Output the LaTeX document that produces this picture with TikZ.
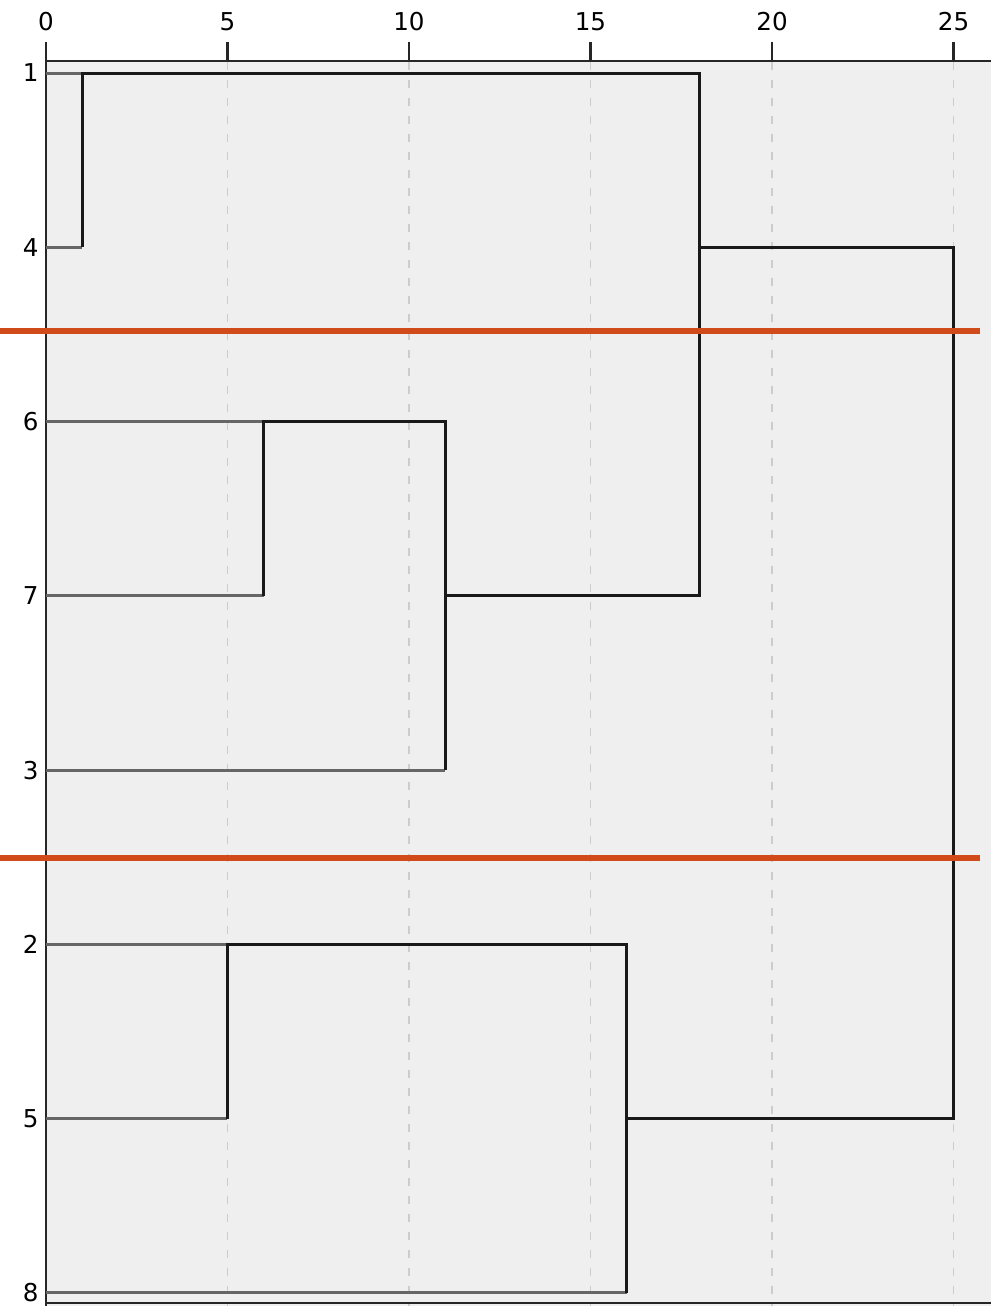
\documentclass[tikz,border=0pt]{standalone}
\usepackage{fontspec}
\setmainfont{DejaVu Sans}
\definecolor{panelgrey}{HTML}{EFEFEF}
\definecolor{cutred}{HTML}{D04A1A}
\begin{document}
\begin{tikzpicture}[x=0.02cm, y=-0.02cm, font=\fontsize{14}{16}\selectfont]
  \tikzset{
    axis/.style={line width=1.5pt, black!85},
    gridline/.style={draw=black!20, line width=1pt, dash pattern=on 0.16cm off 0.2cm},
    leaf/.style={draw=black!60, line width=1.7pt},
    link/.style={draw=black!90, line width=1.7pt},
    cut/.style={draw=cutred, line width=3.3pt},
    tick/.style={inner sep=1pt, anchor=south},
    leaflabel/.style={inner sep=1pt, anchor=east}}
  \useasboundingbox (0,0) rectangle (991,1306);
  % panel
  \fill[panelgrey] (46,61) rectangle (991,1306);
  \foreach \v in {5,10,...,25}
    \draw[gridline] ({46+36.3*\v},62) -- ({46+36.3*\v},1306);
  % axis with ticks
  \draw[axis] (46,61) -- (991,61);
  \draw[axis] (46,61) -- (46,1306);
  \draw[axis] (46,1303) -- (991,1303);
  \foreach \v in {0,5,...,25} {
    \draw[axis] ({46+36.3*\v},42) -- ({46+36.3*\v},61);
    \node[tick] (t\v) at ({46+36.3*\v},33) {\v};
  }
  % tree, in data units
  \begin{scope}[shift={(46,73)}, x=0.7260cm, y=-3.486cm]
    \foreach \leaf/\row in {1/0,4/1,6/2,7/3,3/4,2/5,5/6,8/7} {
      \node[leaflabel] (l\leaf) at (-0.15,\row) {\leaf};
      \coordinate (p\leaf) at (0,\row);
    }
    % merge points
    \coordinate (a1) at (1,0);   \coordinate (a4) at (1,1);
    \coordinate (b6) at (6,2);   \coordinate (b7) at (6,3);
    \coordinate (c6) at (11,2);  \coordinate (c7) at (11,3);  \coordinate (c3) at (11,4);
    \coordinate (d1) at (18,0);  \coordinate (d4) at (18,1);  \coordinate (d7) at (18,3);
    \coordinate (e2) at (5,5);   \coordinate (e5) at (5,6);
    \coordinate (f2) at (16,5);  \coordinate (f5) at (16,6);  \coordinate (f8) at (16,7);
    \coordinate (g4) at (25,1);  \coordinate (g5) at (25,6);
    % leaves
    \draw[leaf] (p1) -- (a1);
    \draw[leaf] (p4) -- (a4);
    \draw[leaf] (p6) -- (b6);
    \draw[leaf] (p7) -- (b7);
    \draw[leaf] (p3) -- (c3);
    \draw[leaf] (p2) -- (e2);
    \draw[leaf] (p5) -- (e5);
    \draw[leaf] (p8) -- (f8);
    % links
    \draw[link] (a4) -- (a1) -- (d1) -- (d7) -- (c7);
    \draw[link] (b7) -- (b6) -- (c6) -- (c3);
    \draw[link] (d4) -- (g4) -- (g5) -- (f5);
    \draw[link] (e5) -- (e2) -- (f2) -- (f8);
  \end{scope}
  % cut levels
  \coordinate (cutA) at (0,331);   \coordinate (cutA') at (980,331);
  \coordinate (cutB) at (0,858);   \coordinate (cutB') at (980,858);
  \draw[cut] (cutA) -- (cutA');
  \draw[cut] (cutB) -- (cutB');
\end{tikzpicture}
\end{document}
